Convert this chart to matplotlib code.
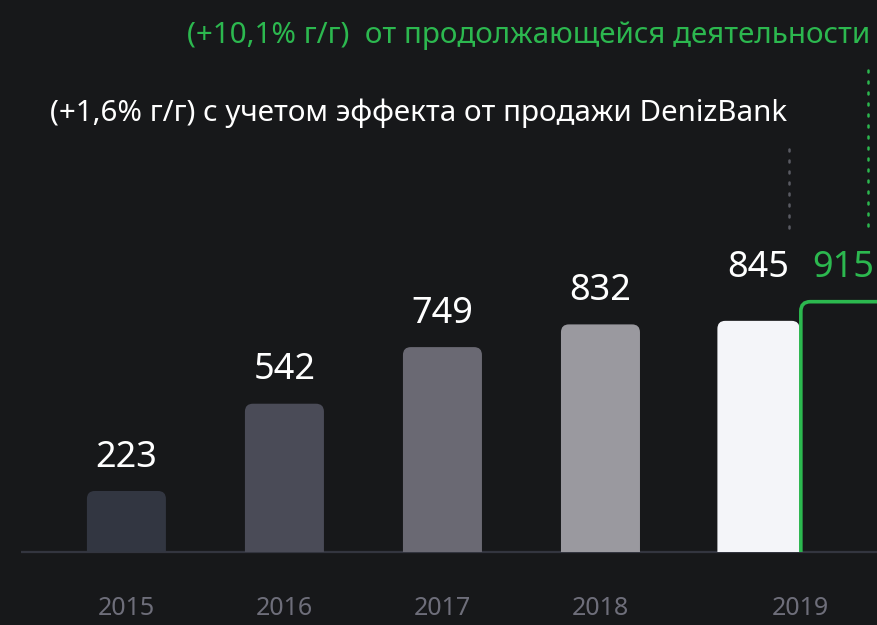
import matplotlib
matplotlib.use("Agg")
import matplotlib.pyplot as plt
from matplotlib.patches import FancyBboxPatch, Rectangle

plt.rcParams["font.family"] = ["Noto Sans", "DejaVu Sans"]

years = ["2015", "2016", "2017", "2018", "2019"]
values = [223, 542, 749, 832, 845]
continuing_value = 915
bar_colors = ["#323641", "#4a4b57", "#6a6973", "#9a999f", "#f4f5f9"]
title_green = "(+10,1% г/г)  от продолжающейся деятельности"
title_white = "(+1,6% г/г) с учетом эффекта от продажи DenizBank"

BG = "#17181a"
GREEN = "#2cb84f"
YEAR_C = "#6e6e7a"

fig = plt.figure(figsize=(8.77, 6.25), dpi=100, facecolor=BG)
ax = fig.add_axes([0, 0, 1, 1])
ax.set_facecolor(BG)
ax.set_xlim(-0.80, 4.75)
ax.set_ylim(-267, 2018)
ax.axis("off")

clip = Rectangle((-5, 0), 20, 5000, transform=ax.transData)

widths = [0.5, 0.5, 0.5, 0.5, 0.52]
xs = list(range(len(years)))
bars = ax.bar(xs, values, width=widths, color=bar_colors)
for rect in bars:
    x0, w, h = rect.get_x(), rect.get_width(), rect.get_height()
    p = FancyBboxPatch((x0, -60), w, h + 60,
                       boxstyle="round,pad=0,rounding_size=0.05",
                       mutation_aspect=580, facecolor=rect.get_facecolor(),
                       edgecolor="none", zorder=3)
    ax.add_patch(p)
    p.set_clip_path(clip)
    rect.remove()

# continuing-operations bar (outline only)
gx = xs[-1] + widths[-1] / 2 + 0.008
g = FancyBboxPatch((gx, -60), 0.6, continuing_value + 60,
                   boxstyle="round,pad=0,rounding_size=0.06",
                   mutation_aspect=580, facecolor="none",
                   edgecolor=GREEN, lw=2.6, zorder=4)
ax.add_patch(g)
g.set_clip_path(clip)

ax.plot([-0.668, 4.75], [0, 0], color="#33353f", lw=1.6, zorder=2,
        solid_capstyle="butt")

for x, v in zip(xs[:-1], values[:-1]):
    ax.annotate(str(v), (x, v), xytext=(0, 11), textcoords="offset points",
                ha="center", va="bottom", fontsize=26, color="white")
top = max(values[-1], continuing_value)
ax.annotate(str(values[-1]), (xs[-1], top), xytext=(0, 11),
            textcoords="offset points", ha="center", va="bottom",
            fontsize=26, color="white")
ax.annotate(str(continuing_value), (gx + 0.27, top), xytext=(0, 11),
            textcoords="offset points", ha="center", va="bottom",
            fontsize=26, color=GREEN)

year_x = xs[:-1] + [gx]
for x, y in zip(year_x, years):
    ax.text(x, -205, y, ha="center", va="center", fontsize=18, color=YEAR_C)

# dotted leaders
ax.plot([4.193, 4.193], [1185, 1488], color="#5a5b63", lw=1.8,
        linestyle=(0, (0.8, 3.6)), dash_capstyle="round")
ax.plot([4.693, 4.693], [1192, 1792], color=GREEN, lw=1.8,
        linestyle=(0, (0.8, 3.6)), dash_capstyle="round")

fig.text(0.992, 0.944, title_green, ha="right", va="center",
         fontsize=21.3, color=GREEN)
fig.text(0.057, 0.819, title_white, ha="left", va="center",
         fontsize=21.3, color="white")

fig.savefig("out.png", dpi=100, facecolor=BG)
